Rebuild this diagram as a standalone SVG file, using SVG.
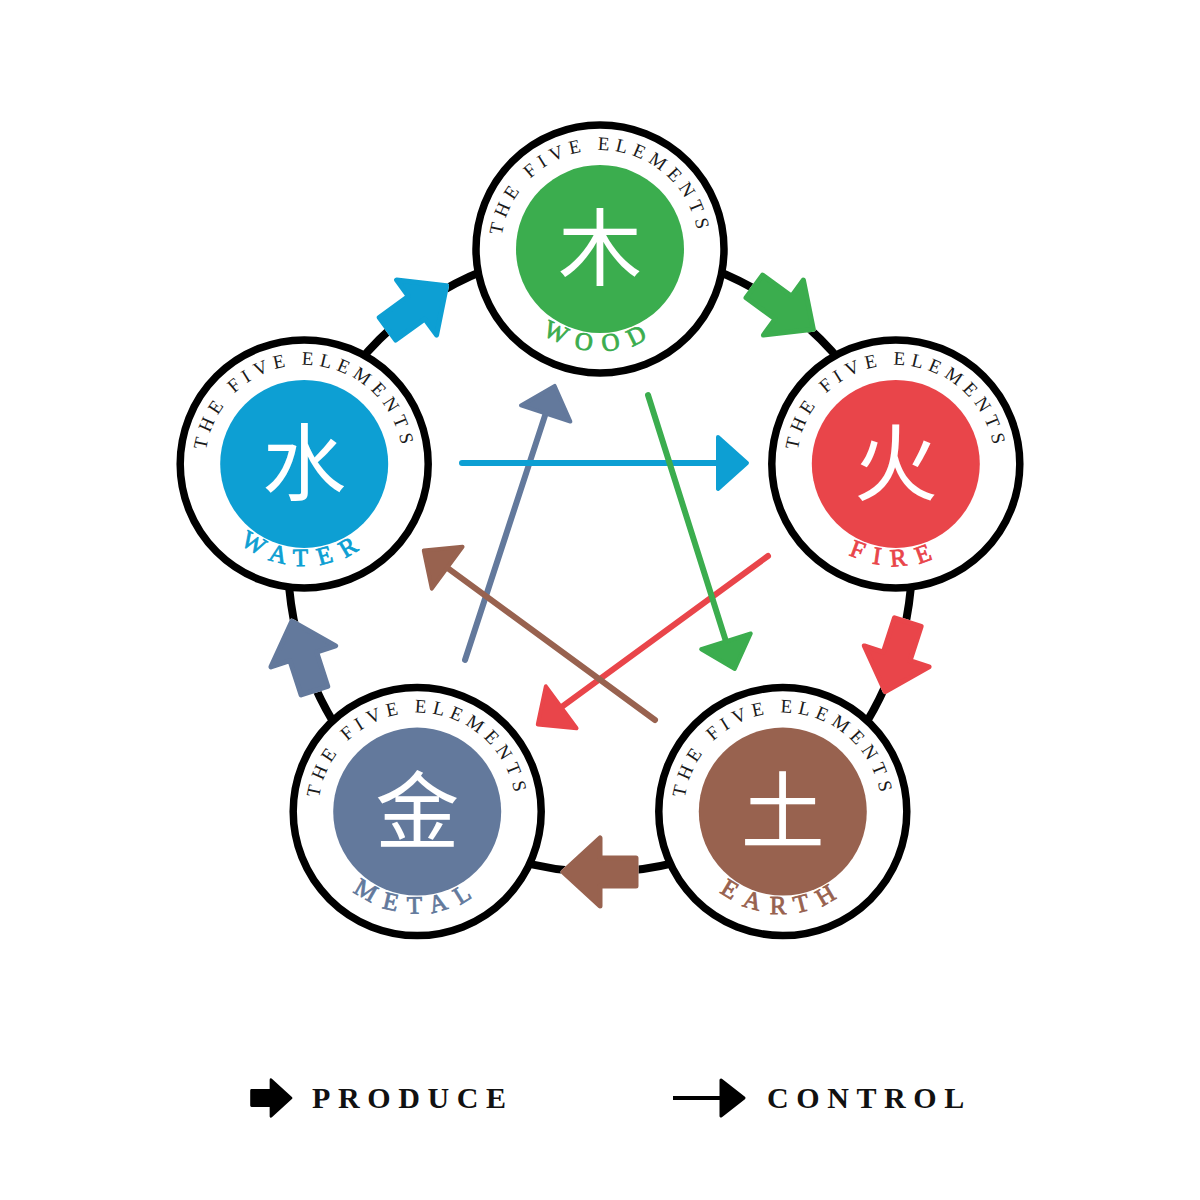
<svg xmlns="http://www.w3.org/2000/svg" xmlns:xlink="http://www.w3.org/1999/xlink" width="1200" height="1200" viewBox="0 0 1200 1200">
<style>
.ring{fill:#fff;stroke:#000;stroke-width:7.5}
.top{font-family:"Liberation Serif",serif;font-size:19px;letter-spacing:5.6px;fill:#1a1a1a}
.lbl{font-family:"Liberation Serif",serif;font-size:25px;letter-spacing:11px;stroke-width:0.8px}
.cjk{font-family:"Noto Sans CJK SC","Noto Sans CJK JP",sans-serif;font-size:84px;fill:#fff;text-anchor:middle}
.halo{fill:#fff;stroke:#fff;stroke-width:14;stroke-linejoin:round}
.ctl{fill:none;stroke-width:6;stroke-linecap:round}
.leg{font-family:"Liberation Serif",serif;font-size:30px;font-weight:bold;letter-spacing:7.6px;fill:#111}
</style>
<defs>
<path id="topArc" d="M-99,0 A99,99 0 0 1 99,0"/>
<path id="botArc" d="M-102,0 A102,102 0 0 0 102,0"/>
<path id="pa" d="M-36,-14 L0,-14 L0,-34 L37,0 L0,34 L0,14 L-36,14 Z" stroke-width="5" stroke-linejoin="round"/>
<marker id="hBlue" viewBox="-30 -30 50 60" markerWidth="50" markerHeight="60" refX="0" refY="0" orient="auto" markerUnits="userSpaceOnUse"><path d="M-12,-26 L17,0 L-12,26 Z" fill="#0d9fd3" stroke="#0d9fd3" stroke-width="4" stroke-linejoin="round"/></marker>
<marker id="hGreen" viewBox="-30 -30 50 60" markerWidth="50" markerHeight="60" refX="0" refY="0" orient="auto" markerUnits="userSpaceOnUse"><path d="M-12,-26 L17,0 L-12,26 Z" fill="#3bad4e" stroke="#3bad4e" stroke-width="4" stroke-linejoin="round"/></marker>
<marker id="hRed" viewBox="-30 -30 50 60" markerWidth="50" markerHeight="60" refX="0" refY="0" orient="auto" markerUnits="userSpaceOnUse"><path d="M-12,-26 L17,0 L-12,26 Z" fill="#e9454a" stroke="#e9454a" stroke-width="4" stroke-linejoin="round"/></marker>
<marker id="hBrown" viewBox="-30 -30 50 60" markerWidth="50" markerHeight="60" refX="0" refY="0" orient="auto" markerUnits="userSpaceOnUse"><path d="M-12,-26 L17,0 L-12,26 Z" fill="#98624f" stroke="#98624f" stroke-width="4" stroke-linejoin="round"/></marker>
<marker id="hSlate" viewBox="-30 -30 50 60" markerWidth="50" markerHeight="60" refX="0" refY="0" orient="auto" markerUnits="userSpaceOnUse"><path d="M-12,-26 L17,0 L-12,26 Z" fill="#63799c" stroke="#63799c" stroke-width="4" stroke-linejoin="round"/></marker>
</defs>
<rect width="1200" height="1200" fill="#fff"/>

<g id="connectors">
  <circle cx="600" cy="560" r="312" fill="none" stroke="#000" stroke-width="8"/>
  <!-- produce arrows -->
  <g transform="translate(783.4,307.6) rotate(36)"><use href="#pa" class="halo"/><use href="#pa" fill="#3bad4e" stroke="#3bad4e"/></g>
  <g transform="translate(896.7,656.4) rotate(108)"><use href="#pa" class="halo"/><use href="#pa" fill="#e9454a" stroke="#e9454a"/></g>
  <g transform="translate(600,872) rotate(180)"><use href="#pa" class="halo"/><use href="#pa" fill="#98624f" stroke="#98624f"/></g>
  <g transform="translate(303.3,656.4) rotate(252)"><use href="#pa" class="halo"/><use href="#pa" fill="#63799c" stroke="#63799c"/></g>
  <g transform="translate(416.6,307.6) rotate(324)"><use href="#pa" class="halo"/><use href="#pa" fill="#0d9fd3" stroke="#0d9fd3"/></g>
  <!-- control arrows -->
  <line class="ctl" x1="465" y1="660" x2="549.4" y2="402.1" stroke="#63799c" marker-end="url(#hSlate)"/>
  <line class="ctl" x1="462" y1="463" x2="730" y2="463" stroke="#0d9fd3" marker-end="url(#hBlue)"/>
  <line class="ctl" x1="768" y1="556" x2="551.5" y2="714.4" stroke="#e9454a" marker-end="url(#hRed)"/>
  <line class="ctl" x1="655" y1="720" x2="437.5" y2="560.6" stroke="#98624f" marker-end="url(#hBrown)"/>
  <line class="ctl" x1="648" y1="395" x2="729.6" y2="652.8" stroke="#3bad4e" marker-end="url(#hGreen)"/>
</g>

<g id="wood" transform="translate(600,249)">
  <circle class="ring" r="124"/>
  <circle r="84" fill="#3bad4e"/>
  <text class="top"><textPath href="#topArc" startOffset="50%" text-anchor="middle">THE FIVE ELEMENTS</textPath></text>
  <text class="cjk" y="30">木</text>
  <text class="lbl" fill="#3bad4e" stroke="#3bad4e"><textPath href="#botArc" startOffset="50%" text-anchor="middle">WOOD</textPath></text>
</g>
<g id="fire" transform="translate(895.8,463.9)">
  <circle class="ring" r="124"/>
  <circle r="84" fill="#e9454a"/>
  <text class="top"><textPath href="#topArc" startOffset="50%" text-anchor="middle">THE FIVE ELEMENTS</textPath></text>
  <text class="cjk" y="30">火</text>
  <text class="lbl" fill="#e9454a" stroke="#e9454a"><textPath href="#botArc" startOffset="50%" text-anchor="middle">FIRE</textPath></text>
</g>
<g id="earth" transform="translate(782.8,811.6)">
  <circle class="ring" r="124"/>
  <circle r="84" fill="#98624f"/>
  <text class="top"><textPath href="#topArc" startOffset="50%" text-anchor="middle">THE FIVE ELEMENTS</textPath></text>
  <text class="cjk" y="30">土</text>
  <text class="lbl" fill="#98624f" stroke="#98624f"><textPath href="#botArc" startOffset="50%" text-anchor="middle">EARTH</textPath></text>
</g>
<g id="metal" transform="translate(417.2,811.6)">
  <circle class="ring" r="124"/>
  <circle r="84" fill="#63799c"/>
  <text class="top"><textPath href="#topArc" startOffset="50%" text-anchor="middle">THE FIVE ELEMENTS</textPath></text>
  <text class="cjk" y="30">金</text>
  <text class="lbl" fill="#63799c" stroke="#63799c"><textPath href="#botArc" startOffset="50%" text-anchor="middle">METAL</textPath></text>
</g>
<g id="water" transform="translate(304.2,463.9)">
  <circle class="ring" r="124"/>
  <circle r="84" fill="#0d9fd3"/>
  <text class="top"><textPath href="#topArc" startOffset="50%" text-anchor="middle">THE FIVE ELEMENTS</textPath></text>
  <text class="cjk" y="30">水</text>
  <text class="lbl" fill="#0d9fd3" stroke="#0d9fd3"><textPath href="#botArc" startOffset="50%" text-anchor="middle">WATER</textPath></text>
</g>

<g id="legend">
  <g transform="translate(271,1098) scale(0.54)"><use href="#pa" fill="#000" stroke="#000"/></g>
  <text class="leg" x="312" y="1108">PRODUCE</text>
  <line x1="673" y1="1098" x2="724" y2="1098" stroke="#000" stroke-width="4"/>
  <path d="M721,1080 L744,1098 L721,1116 Z" fill="#000" stroke="#000" stroke-width="3" stroke-linejoin="round"/>
  <text class="leg" x="767" y="1108">CONTROL</text>
</g>
</svg>
